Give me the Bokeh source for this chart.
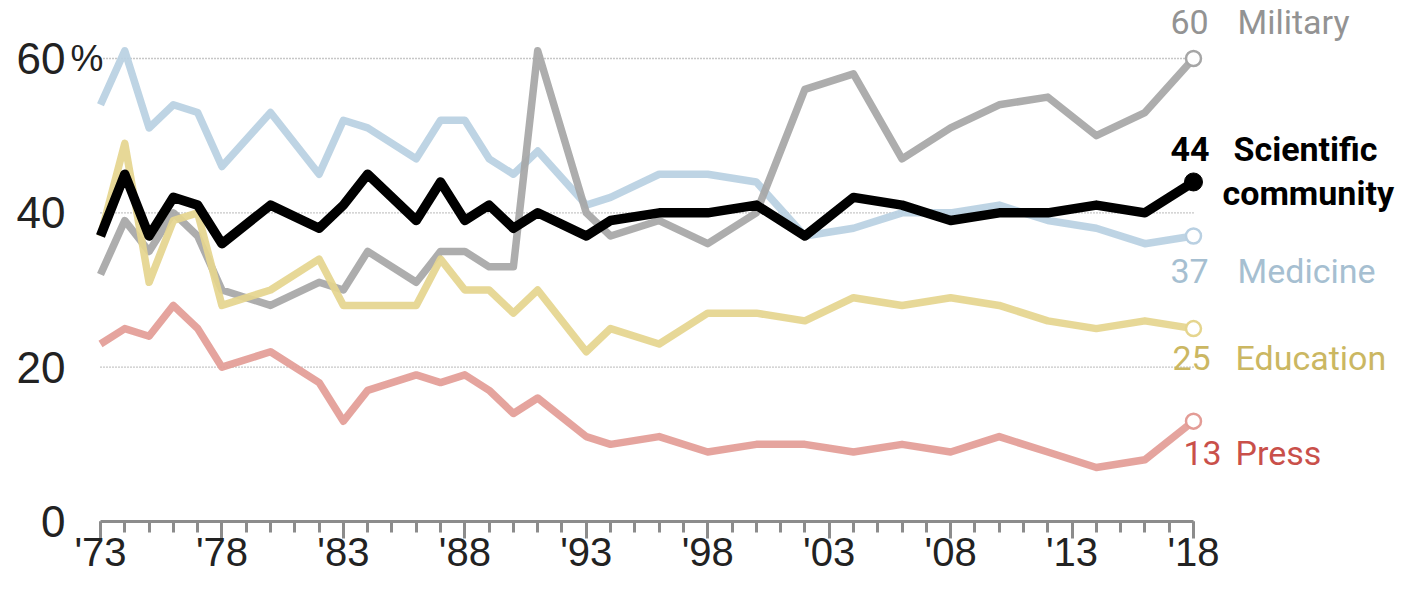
from bokeh.plotting import figure
from bokeh.models import Range1d, FixedTicker, Label
from bokeh.embed import file_html
from bokeh.resources import INLINE

# ---- data ----
years = [1973, 1974, 1975, 1976, 1977, 1978, 1980, 1982, 1983, 1984, 1986, 1987,
         1988, 1989, 1990, 1991, 1993, 1994, 1996, 1998, 2000, 2002, 2004, 2006,
         2008, 2010, 2012, 2014, 2016, 2018]
science = [37, 45, 37, 42, 41, 36, 41, 38, 41, 45, 39, 44, 39, 41, 38, 40, 37, 39,
           40, 40, 41, 37, 42, 41, 39, 40, 40, 41, 40, 44]
military = [32, 39, 35, 40, 37, 30, 28, 31, 30, 35, 31, 35, 35, 33, 33, 61, 40, 37,
            39, 36, 40, 56, 58, 47, 51, 54, 55, 50, 53, 60]
medicine = [54, 61, 51, 54, 53, 46, 53, 45, 52, 51, 47, 52, 52, 47, 45, 48, 41, 42,
            45, 45, 44, 37, 38, 40, 40, 41, 39, 38, 36, 37]
education = [37, 49, 31, 39, 40, 28, 30, 34, 28, 28, 28, 34, 30, 30, 27, 30, 22, 25,
             23, 27, 27, 26, 29, 28, 29, 28, 26, 25, 26, 25]
press = [23, 25, 24, 28, 25, 20, 22, 18, 13, 17, 19, 18, 19, 17, 14, 16, 11, 10,
         11, 9, 10, 10, 9, 10, 9, 11, 9, 7, 8, 13]

y_ticks = [0, 20, 40, 60]
x_major = [1973, 1978, 1983, 1988, 1993, 1998, 2003, 2008, 2013, 2018]
x_labels = ["'73", "'78", "'83", "'88", "'93", "'98", "'03", "'08", "'13", "'18"]
x_minor = list(range(1973, 2019))

series_names = ["Medicine", "Military", "Education", "Press", "Scientific community"]

# ---- styles ----
line_colors = {"Medicine": "#b9d0e2", "Military": "#a6a6a6", "Education": "#e5d58e",
               "Press": "#e39c96", "Scientific community": "#000000"}
text_colors = {"Medicine": "#a6bfd1", "Military": "#939393", "Education": "#cbb762",
               "Press": "#c9504a", "Scientific community": "#000000"}
series_values = {"Medicine": medicine, "Military": military, "Education": education,
                 "Press": press, "Scientific community": science}

# frame covers the whole figure; axes are placed at fixed data locations
p = figure(width=1396, height=575, output_backend="svg", toolbar_location=None,
           x_range=Range1d(1968.883, 2026.358), y_range=Range1d(-6.998, 67.516),
           min_border_left=0, min_border_right=0, min_border_top=0,
           min_border_bottom=0)
p.outline_line_color = None
p.background_fill_color = "white"
p.border_fill_color = "white"
p.xgrid.visible = False
p.ygrid.visible = False

# dotted gridlines
grid_y = [t for t in y_ticks if t > 0]
p.segment(x0=[years[0]] * len(grid_y), x1=[years[-1]] * len(grid_y), y0=grid_y, y1=grid_y,
          line_color="#8f8f8f", line_width=1.3, line_dash="1 2")

# x axis
xa = p.xaxis[0]
xa.fixed_location = y_ticks[0]
xa.bounds = (years[0], years[-1])
xa.ticker = FixedTicker(ticks=x_major, minor_ticks=x_minor)
xa.major_label_overrides = {t: l for t, l in zip(x_major, x_labels)}
xa.axis_line_color = "#8c8c8c"
xa.axis_line_width = 3
xa.major_tick_line_color = "#8c8c8c"
xa.major_tick_line_width = 3
xa.major_tick_in = 0
xa.major_tick_out = 17
xa.minor_tick_line_color = "#8c8c8c"
xa.minor_tick_line_width = 3
xa.minor_tick_in = 0
xa.minor_tick_out = 11
xa.major_label_text_font = "Liberation Sans"
xa.major_label_text_font_size = "40px"
xa.major_label_text_color = "#222222"
xa.major_label_standoff = -8

# y axis
ya = p.yaxis[0]
ya.fixed_location = years[0]
ya.ticker = FixedTicker(ticks=y_ticks)
ya.axis_line_color = None
ya.major_tick_line_color = None
ya.minor_tick_line_color = None
ya.major_tick_out = 0
ya.major_tick_in = 0
ya.major_label_text_font = "Liberation Sans"
ya.major_label_text_font_size = "44px"
ya.major_label_text_color = "#222222"
ya.major_label_standoff = 35

p.add_layout(Label(x=years[0], y=y_ticks[-1], text="%", x_offset=-30,
                   text_baseline="middle", text_align="left",
                   text_font="Liberation Sans", text_font_size="37px",
                   text_color="#222222"))

# lines
for name in series_names:
    vals = series_values[name]
    sci = name == "Scientific community"
    p.line(years, vals, line_color=line_colors[name], line_width=9.5 if sci else 7.5,
           line_join="round", line_alpha=1 if sci else 0.92)

# endpoint markers
for name in series_names:
    vals = series_values[name]
    if name == "Scientific community":
        p.scatter([years[-1]], [vals[-1]], size=18, fill_color="#000000",
                  line_color="#000000")
    else:
        p.scatter([years[-1]], [vals[-1]], size=15, fill_color="white",
                  line_color=line_colors[name], line_width=2.5)

# end labels: (number x_offset, y_offset, name x_offset)
label_pos = {"Military": (-23, 36, 44), "Medicine": (-23, -35, 44),
             "Education": (-21, -29, 42), "Press": (-10, -32, 42)}
for name, (nx, ny, tx) in label_pos.items():
    vals = series_values[name]
    p.add_layout(Label(x=years[-1], y=vals[-1], text=str(vals[-1]), x_offset=nx,
                       y_offset=ny, text_baseline="middle", text_align="left",
                       text_font="Roboto", text_font_size="34px",
                       text_color=text_colors[name]))
    p.add_layout(Label(x=years[-1], y=vals[-1], text=name, x_offset=tx,
                       y_offset=ny, text_baseline="middle", text_align="left",
                       text_font="Roboto", text_font_size="34px",
                       text_color=text_colors[name]))

sci_words = series_names[-1].split(" ")
for txt, ox, oy in [(str(science[-1]), -23, 33), (sci_words[0], 40, 33),
                    (sci_words[1], 29, -11)]:
    p.add_layout(Label(x=years[-1], y=science[-1], text=txt, x_offset=ox,
                       y_offset=oy, text_baseline="middle", text_align="left",
                       text_font="Roboto", text_font_size="34px",
                       text_font_style="bold", text_color="#000000"))

open("out.html", "w").write(file_html(p, INLINE))
